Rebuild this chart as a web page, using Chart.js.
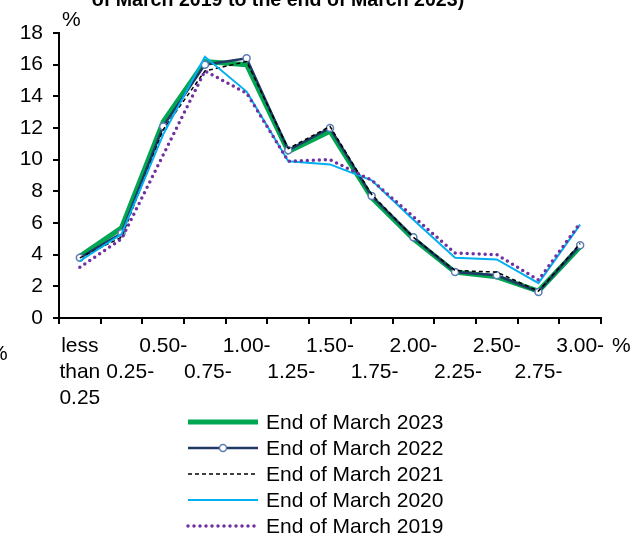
<!DOCTYPE html>
<html>
<head>
<meta charset="utf-8">
<script src="https://cdn.jsdelivr.net/npm/chart.js@4.4.1/dist/chart.umd.min.js"></script>
<style>
  body { margin: 0; background: #fff; }
  canvas { display: block; }
</style>
</head>
<body>
<canvas id="rateChart" width="639" height="538"></canvas>
<script>
// categories (interest rate buckets), staggered on two rows like the original
const categories = [
  ['less', 'than', '0.25'], ['', '   0.25-'], ['0.50-'], ['', ' 0.75-'], ['1.00-'],
  ['', ' 1.25-'], ['1.50-'], ['', ' 1.75-'], ['2.00-'], ['', ' 2.25-'],
  ['2.50-'], ['', '2.75-'], ['3.00-'],
];
const yTicks = [0, 2, 4, 6, 8, 10, 12, 14, 16, 18];

const march2023 = [3.9, 5.7, 12.4, 16.2, 16.0, 10.5, 11.8, 7.6, 5.0, 2.9, 2.6, 1.7, 4.5];
const march2022 = [3.8, 5.35, 12.1, 16.0, 16.4, 10.6, 12.0, 7.7, 5.1, 2.9, 2.7, 1.65, 4.6];
const march2021 = [3.8, 5.1, 11.9, 15.6, 16.2, 10.7, 12.1, 7.8, 5.1, 3.0, 2.9, 1.7, 4.7];
const march2020 = [3.6, 5.3, 11.6, 16.5, 14.3, 9.9, 9.7, 8.7, 6.2, 3.8, 3.7, 2.2, 5.9];
const march2019 = [3.2, 5.0, 10.3, 15.6, 14.2, 9.9, 10.0, 8.7, 6.4, 4.1, 4.0, 2.4, 6.0];

const FONT = "'Liberation Sans', Arial, sans-serif";

const extraText = {
  id: 'extraText',
  afterDraw(chart) {
    const ctx = chart.ctx;
    const area = chart.chartArea;
    ctx.save();
    ctx.fillStyle = '#000';
    // cut-off title at the top
    ctx.font = 'bold 19.6px ' + FONT;
    ctx.textAlign = 'center';
    ctx.textBaseline = 'alphabetic';
    ctx.fillText('of March 2019 to the end of March 2023)', 278, 6);
    // unit marks
    ctx.font = '21px ' + FONT;
    ctx.textAlign = 'left';
    ctx.textBaseline = 'middle';
    ctx.fillText('%', area.left + 3, 20);
    ctx.fillText('%', 612, 346);
    ctx.fillText('%', -11, 354);

    // legend, one item per row
    const x0 = 188, x1 = 258;
    chart.data.datasets.forEach((ds, i) => {
      const y = 422 + i * 26;
      ctx.save();
      ctx.strokeStyle = ds.borderColor;
      ctx.lineWidth = ds.borderWidth;
      ctx.lineCap = ds.borderCapStyle || 'butt';
      ctx.setLineDash(ds.borderDash || []);
      ctx.beginPath();
      ctx.moveTo(x0, y);
      ctx.lineTo(x1, y);
      ctx.stroke();
      if (ds.pointRadius > 0) {
        ctx.setLineDash([]);
        ctx.fillStyle = ds.pointBackgroundColor;
        ctx.strokeStyle = ds.pointBorderColor;
        ctx.lineWidth = ds.pointBorderWidth;
        ctx.beginPath();
        ctx.arc((x0 + x1) / 2, y, ds.pointRadius, 0, Math.PI * 2);
        ctx.fill();
        ctx.stroke();
      }
      ctx.restore();
      ctx.fillText(ds.label, 266, y + 1);
    });
    ctx.restore();
  },
};

new Chart(document.getElementById('rateChart').getContext('2d'), {
  type: 'line',
  data: {
    labels: categories,
    datasets: [
      {
        label: 'End of March 2023',
        data: march2023,
        borderColor: '#00a651',
        borderWidth: 5,
        pointRadius: 0,
        order: 5,
      },
      {
        label: 'End of March 2022',
        data: march2022,
        borderColor: '#1f3864',
        borderWidth: 2.5,
        pointRadius: 3.5,
        pointBackgroundColor: '#fff',
        pointBorderColor: '#5b7db5',
        pointBorderWidth: 1.5,
        order: 4,
      },
      {
        label: 'End of March 2021',
        data: march2021,
        borderColor: '#000',
        borderWidth: 1.5,
        borderDash: [4, 3],
        pointRadius: 0,
        order: 3,
      },
      {
        label: 'End of March 2020',
        data: march2020,
        borderColor: '#00b0f0',
        borderWidth: 2,
        pointRadius: 0,
        order: 2,
      },
      {
        label: 'End of March 2019',
        data: march2019,
        borderColor: '#7030a0',
        borderWidth: 3.5,
        borderDash: [0, 6],
        borderCapStyle: 'round',
        pointRadius: 0,
        order: 1,
      },
    ],
  },
  options: {
    responsive: false,
    animation: false,
    layout: { padding: { left: 0, top: 33, right: 38, bottom: 130 } },
    plugins: {
      legend: { display: false },
      tooltip: { enabled: false },
    },
    scales: {
      x: {
        offset: true,
        grid: {
          offset: true,
          drawOnChartArea: false,
          color: '#000',
          lineWidth: 2,
          tickLength: 6,
        },
        border: { color: '#000', width: 2 },
        ticks: {
          color: '#000',
          font: { family: FONT, size: 21, lineHeight: 1.25 },
          padding: 9,
          maxRotation: 0,
          autoSkip: false,
        },
        afterFit(scale) { scale.height = 90; },
      },
      y: {
        min: 0,
        max: 18,
        afterBuildTicks(scale) { scale.ticks = yTicks.map(v => ({ value: v })); },
        grid: {
          drawOnChartArea: false,
          color: '#000',
          lineWidth: 2,
          tickLength: 6,
        },
        border: { color: '#000', width: 2 },
        ticks: {
          color: '#000',
          font: { family: FONT, size: 21 },
          padding: 10,
        },
        afterFit(scale) { scale.width = 59; },
      },
    },
  },
  plugins: [extraText],
});
</script>
</body>
</html>
